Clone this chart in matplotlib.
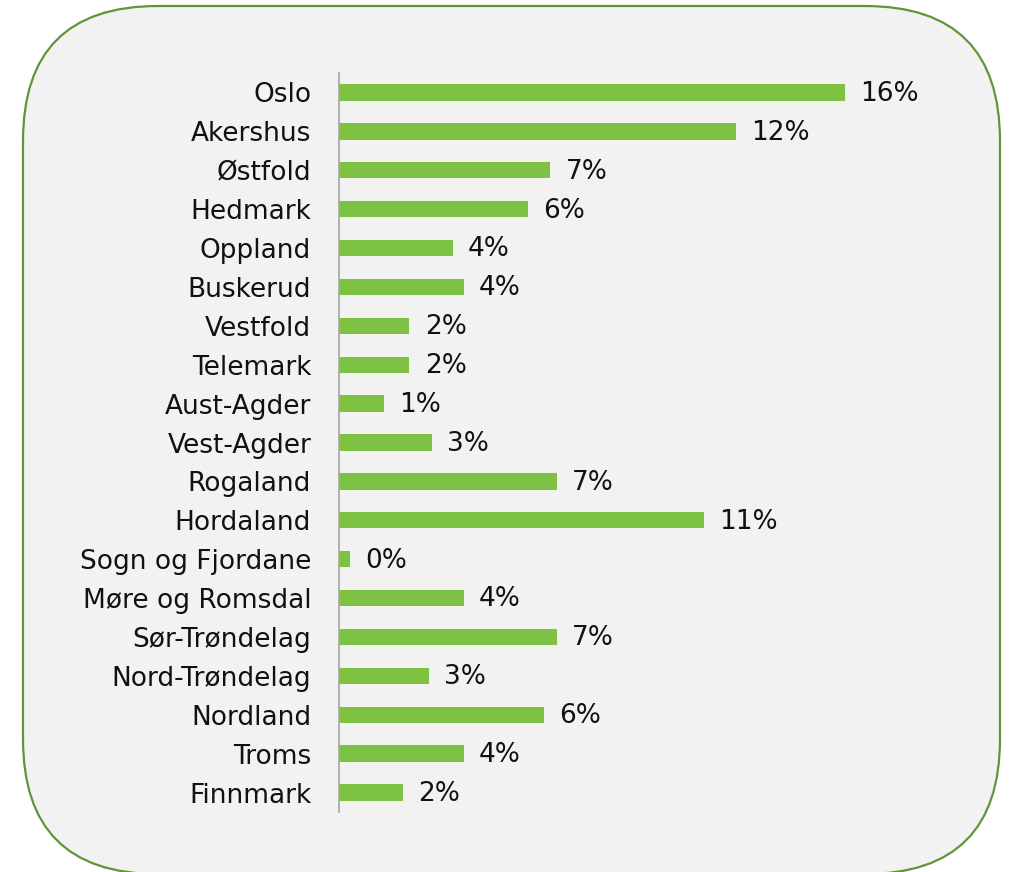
import matplotlib.pyplot as plt
from matplotlib.patches import FancyBboxPatch

# Share per county (bar lengths; labels are rounded)
counties = ["Oslo", "Akershus", "Østfold", "Hedmark", "Oppland", "Buskerud",
            "Vestfold", "Telemark", "Aust-Agder", "Vest-Agder", "Rogaland",
            "Hordaland", "Sogn og Fjordane", "Møre og Romsdal", "Sør-Trøndelag",
            "Nord-Trøndelag", "Nordland", "Troms", "Finnmark"]
shares = [15.8, 12.4, 6.6, 5.9, 3.55, 3.9, 2.2, 2.2, 1.4, 2.9, 6.8, 11.4,
          0.35, 3.9, 6.8, 2.8, 6.4, 3.9, 2.0]

W, H = 1012, 872
fig = plt.figure(figsize=(W / 100, H / 100), dpi=100)
fig.patch.set_facecolor("white")

# Rounded green frame behind the chart
bg = fig.add_axes([0, 0, 1, 1])
bg.set_xlim(0, W)
bg.set_ylim(H, 0)
bg.axis("off")
frame = FancyBboxPatch((23, 6), 977, 868,
                       boxstyle="round,pad=0,rounding_size=135",
                       facecolor="#f2f2f2", edgecolor="#5f9734", linewidth=1.6)
bg.add_patch(frame)

# Bar chart
left, right = 339, 979
top, bottom = 73, 812
ax = fig.add_axes([left / W, 1 - bottom / H, (right - left) / W, (bottom - top) / H])
ax.patch.set_visible(False)

ypos = range(len(counties))
ax.barh(ypos, shares, height=0.42, color="#7dc242")
ax.set_xlim(0, 20)
ax.set_ylim(len(counties) - 0.5, -0.5)

ax.set_yticks(list(ypos))
ax.set_yticklabels(counties, fontsize=19, color="#111111")
ax.tick_params(axis="y", length=0, pad=20)
ax.set_xticks([])

for s in ["top", "right", "bottom"]:
    ax.spines[s].set_visible(False)
ax.spines["left"].set_color("#a6a6a6")
ax.spines["left"].set_linewidth(1.2)

for y, v in zip(ypos, shares):
    ax.annotate(f"{v:.0f}%", (v, y), xytext=(11, -1), textcoords="offset points",
                va="center", ha="left", fontsize=19, color="#111111")

fig.savefig("out.png", dpi=100)
